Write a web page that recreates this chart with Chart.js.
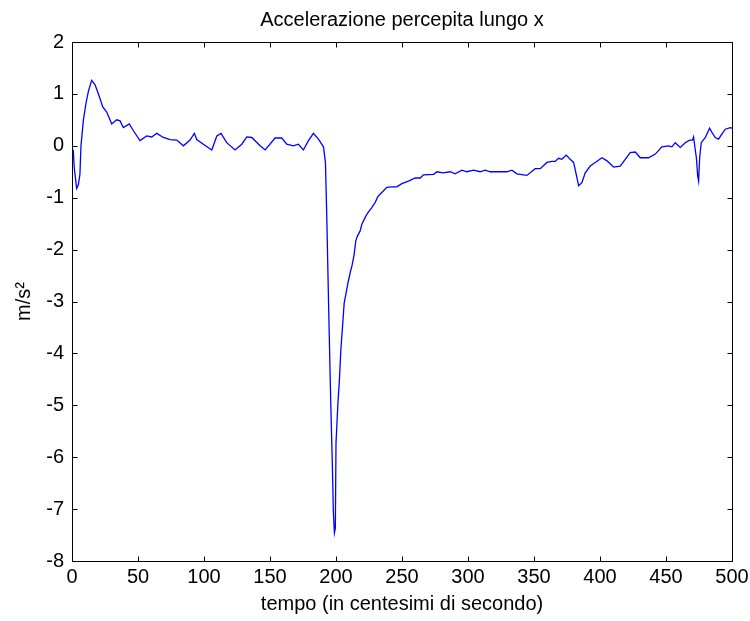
<!DOCTYPE html>
<html>
<head>
<meta charset="utf-8">
<title>Accelerazione percepita lungo x</title>
<script src="https://cdn.jsdelivr.net/npm/chart.js@4/dist/chart.umd.min.js"></script>
<style>
	html, body { margin: 0; padding: 0; background: #fff; }
	#wrap { width: 750px; height: 621px; }
</style>
</head>
<body>
<div id="wrap"><canvas id="chart" width="750" height="621"></canvas></div>
<script>
// tempo (centesimi di secondo)
const tempo = [
	0, 1, 1.7, 3.5, 4.8, 6, 6.8, 8.6, 10.6, 12.4, 14.9, 17.4, 20.7, 23.3, 26.3,
	30.1, 33.9, 36.4, 38.9, 43.4, 46.5, 51.5, 56.6, 60.4, 64.2, 69.2, 74.3, 79.4,
	84.4, 89.4, 92.7, 94.5, 99.5, 105.9, 109.7, 112.9, 117.2, 123.5, 128.6, 132.4,
	136.2, 142.5, 146.3, 153.9, 158.9, 162.7, 167.7, 171.5, 175.3, 179.1, 182.9,
	186.7, 190.5, 192, 193, 194.5, 196, 197.2, 198, 198.8, 199.5, 200, 201.4,
	202.6, 203.7, 204.9, 206.2, 207.7, 209.4, 210.7, 212.2, 213.7, 215, 216.2,
	218.3, 219.6, 222.1, 224.1, 227.1, 229.7, 231.7, 234.7, 238.5, 242.3, 246.1,
	249.9, 254.9, 260, 263.8, 266.3, 273.9, 276.5, 281, 286.5, 290.3, 295.4,
	299.1, 304.2, 309.2, 313, 316.8, 329.5, 333.3, 337, 344.6, 350.9, 354.7,
	359.8, 363.6, 366, 368.6, 371.1, 374.4, 377.4, 380, 382, 383.8, 386.3, 388.8,
	392.6, 396.4, 401.5, 405.3, 410.3, 415.3, 419.1, 422.9, 426.7, 430.5, 436.8,
	441.9, 446.9, 452, 454.5, 457, 460.8, 464.6, 467.9, 470.1, 470.9, 471.6, 473,
	474, 474.7, 475.5, 476.7, 479.8, 483, 484.8, 487.3, 489.8, 492.4, 494.9,
	498.7, 500
];

// accelerazione (m/s^2)
const accel = [
	-0.05, -0.1, -0.42, -0.82, -0.75, -0.55, 0, 0.49, 0.82, 1.05, 1.26, 1.18,
	0.95, 0.75, 0.65, 0.42, 0.5, 0.48, 0.35, 0.42, 0.29, 0.1, 0.19, 0.17, 0.24,
	0.16, 0.12, 0.11, 0, 0.11, 0.24, 0.12, 0.03, -0.08, 0.19, 0.24, 0.06, -0.08,
	0.03, 0.17, 0.16, 0, -0.08, 0.15, 0.15, 0.03, 0, 0.03, -0.08, 0.1, 0.24, 0.13,
	-0.02, -0.32, -1.35, -3.19, -4.92, -6.11, -7.05, -7.46, -7.37, -5.73, -4.99,
	-4.5, -3.92, -3.5, -3.03, -2.83, -2.6, -2.45, -2.3, -2.1, -1.83, -1.74, -1.64,
	-1.51, -1.38, -1.29, -1.19, -1.09, -0.98, -0.9, -0.8, -0.79, -0.79, -0.73,
	-0.68, -0.62, -0.62, -0.56, -0.55, -0.5, -0.52, -0.5, -0.54, -0.47, -0.5,
	-0.47, -0.5, -0.47, -0.5, -0.5, -0.47, -0.54, -0.57, -0.44, -0.44, -0.32,
	-0.3, -0.3, -0.24, -0.26, -0.18, -0.26, -0.32, -0.55, -0.77, -0.71, -0.52,
	-0.39, -0.32, -0.23, -0.29, -0.41, -0.39, -0.26, -0.13, -0.12, -0.23, -0.23,
	-0.16, -0.02, 0, -0.02, 0.06, -0.03, 0.06, 0.11, 0.11, 0.17, 0.03, -0.23,
	-0.58, -0.68, -0.23, 0.06, 0.16, 0.34, 0.26, 0.16, 0.13, 0.23, 0.32, 0.35,
	0.34
];

const xTicks = [0, 50, 100, 150, 200, 250, 300, 350, 400, 450, 500];
const yTicks = [2, 1, 0, -1, -2, -3, -4, -5, -6, -7, -8];

const FONT = "'Liberation Sans', Arial, sans-serif";

/**
 * Draws the MATLAB-like box around the plot area with inward ticks on all sides
 */
const matlabBox = {
	id: "matlabBox",
	afterDraw(chart) {
		const { ctx, chartArea: a, scales } = chart;
		const l = Math.round(a.left) + 0.5;
		const r = Math.round(a.right) + 0.5;
		const t = Math.round(a.top) + 0.5;
		const b = Math.round(a.bottom) + 0.5;
		const len = 5;
		ctx.save();
		ctx.strokeStyle = "#000";
		ctx.lineWidth = 1;
		ctx.beginPath();
		ctx.rect(l, t, r - l, b - t);
		xTicks.forEach((v) => {
			const px = Math.round(scales.x.getPixelForValue(v)) + 0.5;
			ctx.moveTo(px, b);
			ctx.lineTo(px, b - len);
			ctx.moveTo(px, t);
			ctx.lineTo(px, t + len);
		});
		yTicks.forEach((v) => {
			const py = Math.round(scales.y.getPixelForValue(v)) + 0.5;
			ctx.moveTo(l, py);
			ctx.lineTo(l + len, py);
			ctx.moveTo(r, py);
			ctx.lineTo(r - len, py);
		});
		ctx.stroke();
		ctx.restore();
	},
};

new Chart(document.getElementById("chart"), {
	type: "line",
	data: {
		datasets: [
			{
				data: tempo.map((t, i) => ({ x: t, y: accel[i] })),
				borderColor: "#0000ff",
				borderWidth: 1.3,
				pointRadius: 0,
				tension: 0,
				fill: false,
			},
		],
	},
	options: {
		responsive: false,
		animation: false,
		layout: { padding: { left: 0, right: 18, top: 0, bottom: 0 } },
		plugins: {
			legend: { display: false },
			tooltip: { enabled: false },
			title: {
				display: true,
				fullSize: false,
				text: "Accelerazione percepita lungo x",
				color: "#000",
				font: { family: FONT, size: 20, weight: "normal", lineHeight: 1.2 },
				padding: { top: 8, bottom: 10 },
			},
		},
		scales: {
			x: {
				type: "linear",
				min: 0,
				max: 500,
				afterBuildTicks: (scale) => {
					scale.ticks = xTicks.map((v) => ({ value: v }));
				},
				afterFit: (scale) => {
					scale.height = 60;
					scale.paddingLeft = 0;
					scale.paddingRight = 0;
				},
				grid: { display: false, drawTicks: false },
				border: { display: false },
				ticks: {
					color: "#000",
					padding: 4,
					maxRotation: 0,
					autoSkip: false,
					font: { family: FONT, size: 20 },
				},
				title: {
					display: true,
					text: "tempo (in centesimi di secondo)",
					color: "#000",
					font: { family: FONT, size: 20, lineHeight: 1.2 },
					padding: { top: 0, bottom: 5 },
				},
			},
			y: {
				type: "linear",
				min: -8,
				max: 2,
				afterBuildTicks: (scale) => {
					scale.ticks = yTicks.map((v) => ({ value: v }));
				},
				afterFit: (scale) => {
					scale.width = 72;
					scale.paddingTop = 0;
					scale.paddingBottom = 0;
				},
				grid: { display: false, drawTicks: false },
				border: { display: false },
				ticks: {
					color: "#000",
					padding: 8,
					autoSkip: false,
					font: { family: FONT, size: 20 },
				},
				title: {
					display: true,
					text: "m/s²",
					color: "#000",
					font: { family: FONT, size: 20, lineHeight: 1.2 },
					padding: { top: 12, bottom: 0 },
				},
			},
		},
	},
	plugins: [matlabBox],
});
</script>
</body>
</html>
